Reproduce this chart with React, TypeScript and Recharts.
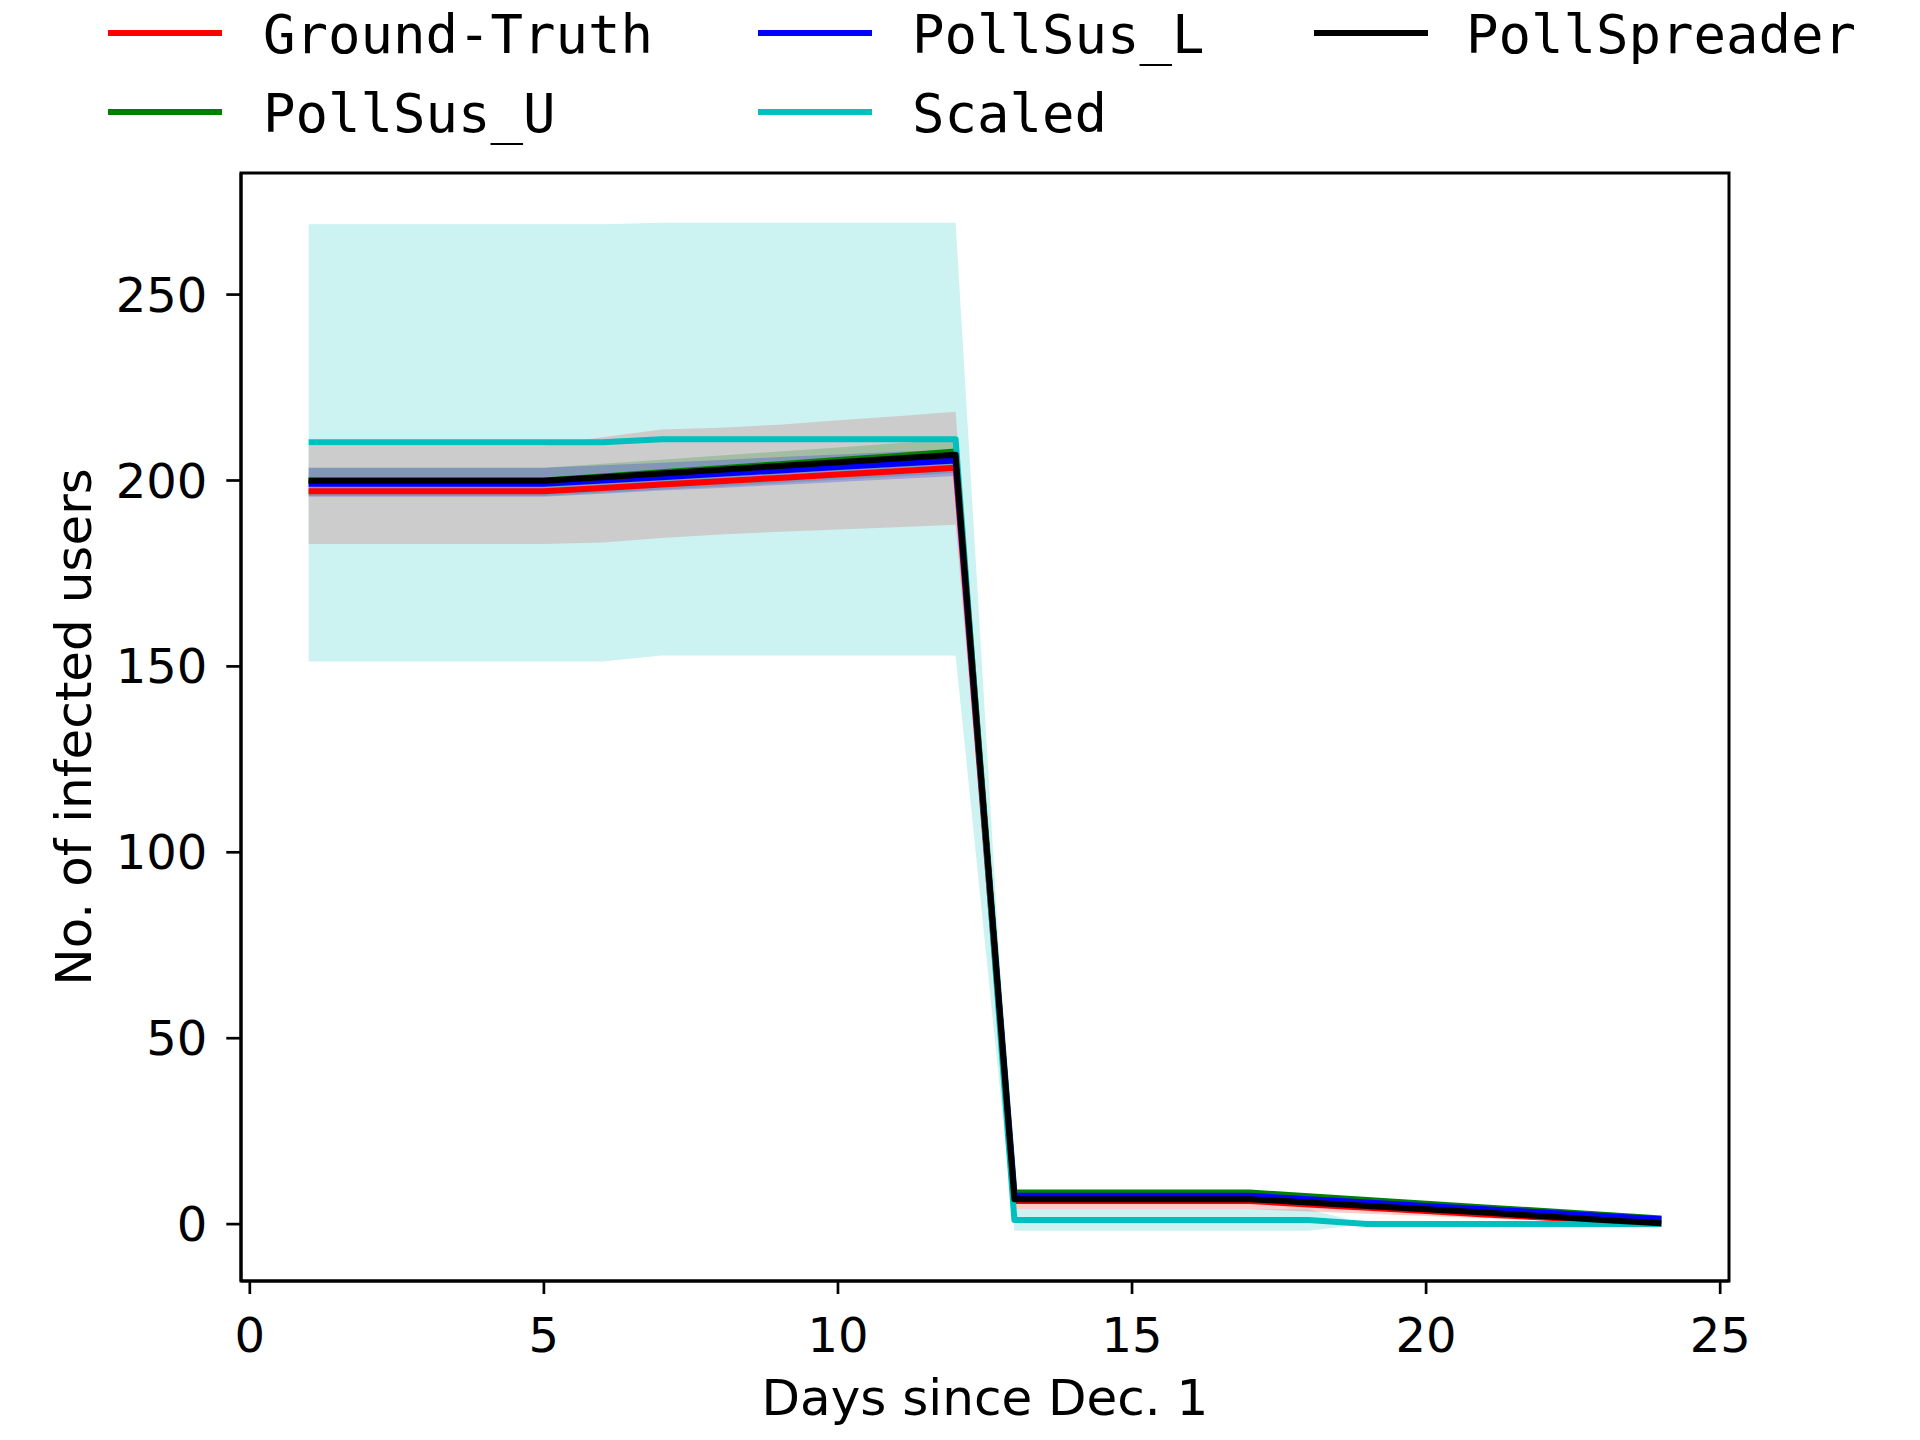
import React from 'react';
import { ComposedChart, Area, Line, XAxis, YAxis, ReferenceArea } from 'recharts';

// days since Dec. 1
const days = [1, 2, 3, 4, 5, 6, 7, 8, 9, 10, 11, 12, 13, 14, 15, 16, 17, 18, 19, 20, 21, 22, 23, 24];

const groundTruth = [197.1, 197.1, 197.1, 197.1, 197.1, 198.0, 198.9, 199.8, 200.7, 201.6, 202.5, 203.4, 6.2, 6.2, 6.2, 6.2, 6.2, 5.3, 4.4, 3.5, 2.6, 1.8, 0.9, 0.0];
const gtLow = [196.6, 196.6, 196.6, 196.6, 196.6, 197.5, 198.4, 199.3, 200.2, 201.1, 202.0, 202.9, 4.0, 4.0, 4.0, 4.0, 4.0, 3.4, 2.8, 2.2, 1.6, 1.0, 0.5, 0.0];
const gtHigh = [197.6, 197.6, 197.6, 197.6, 197.6, 198.5, 199.4, 200.3, 201.2, 202.1, 203.0, 203.9, 6.6, 6.6, 6.6, 6.6, 6.6, 5.6, 4.7, 3.8, 2.9, 2.0, 1.0, 0.0];

const pollSusU = [200.0, 200.0, 200.0, 200.0, 200.0, 201.1, 202.2, 203.3, 204.4, 205.5, 206.6, 207.8, 8.5, 8.5, 8.5, 8.5, 8.5, 7.5, 6.5, 5.5, 4.5, 3.5, 2.5, 1.5];
const susULow = [195.8, 195.8, 195.8, 195.8, 195.8, 196.7, 197.6, 198.4, 199.3, 200.2, 201.1, 202.0, 7.9, 7.9, 7.9, 7.9, 7.9, 6.9, 5.9, 4.9, 3.9, 2.9, 1.9, 0.9];
const susUHigh = [203.4, 203.4, 203.4, 203.4, 203.4, 204.5, 205.6, 206.7, 207.8, 208.9, 210.0, 211.0, 9.1, 9.1, 9.1, 9.1, 9.1, 8.1, 7.1, 6.1, 5.1, 4.1, 3.1, 2.1];

const pollSusL = [199.1, 199.1, 199.1, 199.1, 199.1, 200.0, 200.9, 201.8, 202.7, 203.6, 204.5, 205.4, 7.6, 7.6, 7.6, 7.6, 7.6, 6.7, 5.8, 4.9, 4.0, 3.1, 2.2, 1.3];
const susLLow = [195.6, 195.6, 195.6, 195.6, 195.6, 196.4, 197.3, 198.0, 198.8, 199.6, 200.4, 201.2, 7.0, 7.0, 7.0, 7.0, 7.0, 6.1, 5.2, 4.3, 3.4, 2.5, 1.6, 0.7];
const susLHigh = [203.4, 203.4, 203.4, 203.4, 203.4, 204.1, 204.8, 205.5, 206.3, 207.0, 207.7, 208.3, 8.2, 8.2, 8.2, 8.2, 8.2, 7.3, 6.4, 5.5, 4.6, 3.7, 2.8, 1.9];

const scaled = [210.3, 210.3, 210.3, 210.3, 210.3, 210.3, 211.1, 211.1, 211.1, 211.1, 211.1, 211.1, 1.1, 1.1, 1.1, 1.1, 1.1, 1.1, 0.0, 0.0, 0.0, 0.0, 0.0, 0.0];
const scaledLow = [151.3, 151.3, 151.3, 151.3, 151.3, 151.3, 152.9, 152.9, 152.9, 152.9, 152.9, 152.9, -1.8, -1.8, -1.8, -1.8, -1.8, -1.8, 0.0, 0.0, 0.0, 0.0, 0.0, 0.0];
const scaledHigh = [268.9, 268.9, 268.9, 268.9, 268.9, 268.9, 269.3, 269.3, 269.3, 269.3, 269.3, 269.3, 4.0, 4.0, 4.0, 4.0, 4.0, 4.0, 0.0, 0.0, 0.0, 0.0, 0.0, 0.0];

const pollSpreader = [199.9, 199.9, 199.9, 199.9, 199.9, 200.9, 201.9, 202.9, 203.9, 204.9, 205.9, 206.9, 6.7, 6.7, 6.7, 6.7, 6.7, 5.8, 4.9, 4.0, 3.1, 2.1, 1.1, 0.2];
const spreaderLow = [182.9, 182.9, 182.9, 182.9, 182.9, 183.3, 184.5, 185.5, 186.2, 186.8, 187.4, 188.1, 6.0, 6.0, 6.0, 6.0, 6.0, 5.1, 4.2, 3.3, 2.4, 1.5, 0.6, 0.0];
const spreaderHigh = [209.4, 209.4, 209.4, 209.4, 209.4, 211.6, 213.7, 214.2, 215.0, 216.2, 217.3, 218.5, 7.4, 7.4, 7.4, 7.4, 7.4, 6.5, 5.6, 4.7, 3.8, 2.7, 1.6, 0.4];

const xTicks = [0, 5, 10, 15, 20, 25];
const yTicks = [0, 50, 100, 150, 200, 250];

const xDomain = [-0.15, 25.15];
const yDomain = [-15.3, 282.7];

const rows = days.map((day, i) => ({
  day,
  gt: groundTruth[i],
  gtBand: [gtLow[i], gtHigh[i]],
  susU: pollSusU[i],
  susUBand: [susULow[i], susUHigh[i]],
  susL: pollSusL[i],
  susLBand: [susLLow[i], susLHigh[i]],
  scaled: scaled[i],
  scaledBand: [scaledLow[i], scaledHigh[i]],
  spreader: pollSpreader[i],
  spreaderBand: [spreaderLow[i], spreaderHigh[i]],
}));

// legend entries in matplotlib's column-major order (ncol=3)
const legendItems = [
  { name: 'Ground-Truth', color: '#ff0000', col: 0, row: 0 },
  { name: 'PollSus_U', color: '#008000', col: 0, row: 1 },
  { name: 'PollSus_L', color: '#0000ff', col: 1, row: 0 },
  { name: 'Scaled', color: '#00bfbf', col: 1, row: 1 },
  { name: 'PollSpreader', color: '#000000', col: 2, row: 0 },
];
const legendColX = [108, 758, 1314];
const legendTextX = [263, 912, 1466];
const legendRowY = [33, 112];

const sansFont = '"DejaVu Sans", sans-serif';
const monoFont = '"DejaVu Sans Mono", monospace';

function TopLegend() {
  return (
    <svg width={1920} height={160} style={{ position: 'absolute', left: 0, top: 0 }}>
      {legendItems.map((it) => (
        <g key={it.name}>
          <line
            x1={legendColX[it.col]}
            x2={legendColX[it.col] + 114}
            y1={legendRowY[it.row]}
            y2={legendRowY[it.row]}
            stroke={it.color}
            strokeWidth={6}
          />
          <text x={legendTextX[it.col]} y={legendRowY[it.row] + 20} fontSize={54} fontFamily={monoFont} fill="#000">
            {it.name}
          </text>
        </g>
      ))}
    </svg>
  );
}

const renderXLabel = (props: any) => {
  const vb = props.viewBox;
  return (
    <text x={vb.x + vb.width / 2} y={vb.y + 134} textAnchor="middle" fontSize={50} fontFamily={sansFont} fill="#000">
      Days since Dec. 1
    </text>
  );
};

const renderYLabel = (props: any) => {
  const vb = props.viewBox;
  const x = vb.x + 91;
  const y = vb.y + vb.height / 2;
  return (
    <text x={x} y={y} transform={`rotate(-90, ${x}, ${y})`} textAnchor="middle" fontSize={50} fontFamily={sansFont} fill="#000">
      No. of infected users
    </text>
  );
};

export default function App() {
  return (
    <div style={{ position: 'absolute', left: 0, top: 0, width: 1920, height: 1440, background: '#fff' }}>
      <ComposedChart width={1920} height={1440} data={rows} margin={{ top: 173, right: 191, bottom: 0, left: 0 }}>
        <XAxis
          dataKey="day"
          type="number"
          domain={xDomain}
          ticks={xTicks}
          allowDataOverflow
          height={159}
          tickSize={13}
          tickMargin={24}
          axisLine={{ stroke: '#000', strokeWidth: 3 }}
          tickLine={{ stroke: '#000', strokeWidth: 2.7 }}
          tick={{ fill: '#000', fontSize: 48, fontFamily: sansFont }}
          label={renderXLabel}
        />
        <YAxis
          type="number"
          domain={yDomain}
          ticks={yTicks}
          allowDataOverflow
          width={241}
          tickSize={14.7}
          tickMargin={19}
          axisLine={{ stroke: '#000', strokeWidth: 3 }}
          tickLine={{ stroke: '#000', strokeWidth: 2.7 }}
          tick={{ fill: '#000', fontSize: 48, fontFamily: sansFont }}
          label={renderYLabel}
        />

        <Area type="linear" dataKey="scaledBand" stroke="none" fill="#ccf2f2" fillOpacity={1} isAnimationActive={false} activeDot={false} legendType="none" />
        <Area type="linear" dataKey="spreaderBand" stroke="none" fill="#cccccc" fillOpacity={1} isAnimationActive={false} activeDot={false} legendType="none" />
        <Area type="linear" dataKey="susUBand" stroke="none" fill="#008000" fillOpacity={0.2} isAnimationActive={false} activeDot={false} legendType="none" />
        <Area type="linear" dataKey="susLBand" stroke="none" fill="#0000ff" fillOpacity={0.2} isAnimationActive={false} activeDot={false} legendType="none" />
        <Area type="linear" dataKey="gtBand" stroke="none" fill="#ff0000" fillOpacity={0.2} isAnimationActive={false} activeDot={false} legendType="none" />

        <Line type="linear" dataKey="gt" name="Ground-Truth" stroke="#ff0000" strokeWidth={6} dot={false} isAnimationActive={false} strokeLinejoin="round" />
        <Line type="linear" dataKey="susU" name="PollSus_U" stroke="#008000" strokeWidth={6} dot={false} isAnimationActive={false} strokeLinejoin="round" />
        <Line type="linear" dataKey="susL" name="PollSus_L" stroke="#0000ff" strokeWidth={6} dot={false} isAnimationActive={false} strokeLinejoin="round" />
        <Line type="linear" dataKey="scaled" name="Scaled" stroke="#00bfbf" strokeWidth={6} dot={false} isAnimationActive={false} strokeLinejoin="round" />
        <Line type="linear" dataKey="spreader" name="PollSpreader" stroke="#000000" strokeWidth={6} dot={false} isAnimationActive={false} strokeLinejoin="round" />

        <ReferenceArea x1={xDomain[0]} x2={xDomain[1]} y1={yDomain[0]} y2={yDomain[1]} fill="none" stroke="#000" strokeWidth={3} ifOverflow="visible" />
      </ComposedChart>
      <TopLegend />
    </div>
  );
}
